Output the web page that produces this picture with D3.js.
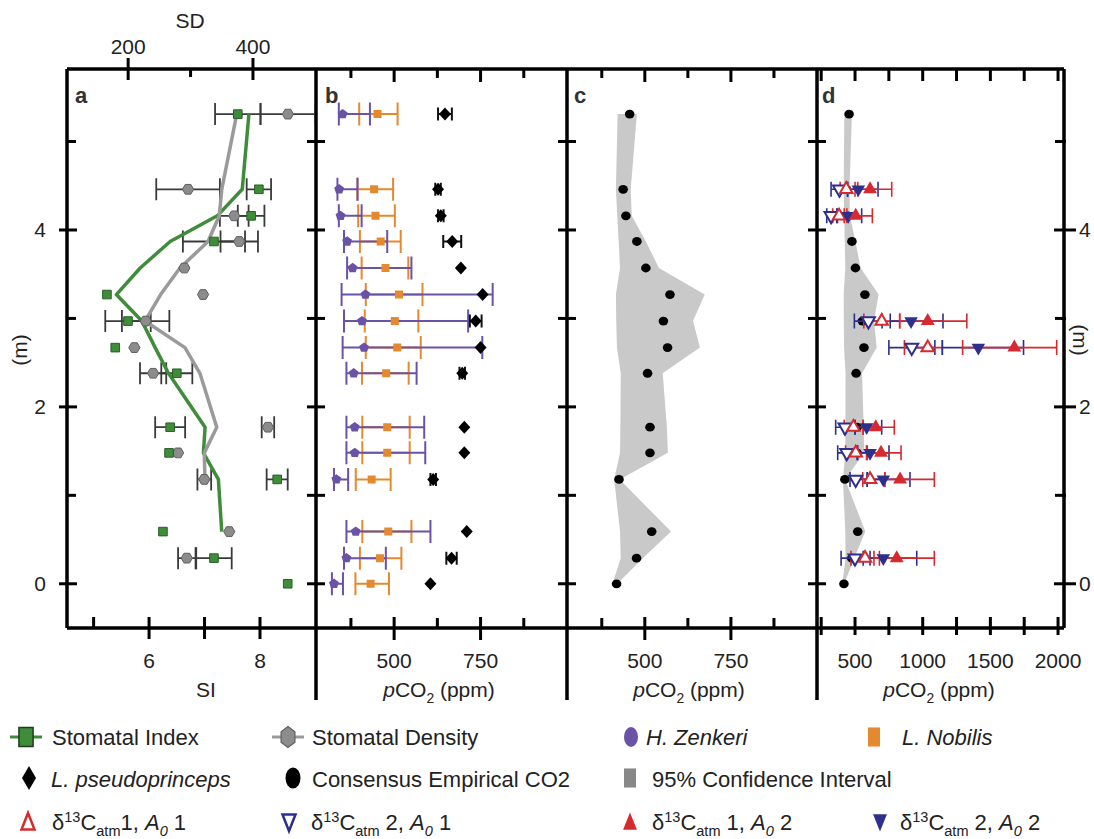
<!DOCTYPE html>
<html>
<head>
<meta charset="utf-8">
<script src="https://cdn.jsdelivr.net/npm/d3@7/dist/d3.min.js"></script>
<style>
  body { margin: 0; background: #fff; }
  svg { font-family: "Liberation Sans", Arial, sans-serif; }
</style>
</head>
<body>
<svg id="chart" width="1094" height="839"></svg>
<script>
// depth of each sampled horizon (m)
const depth = [5.31, 4.46, 4.16, 3.87, 3.57, 3.27, 2.97, 2.67, 2.38, 1.77, 1.48, 1.18, 0.59, 0.29, 0];

// a: stomatal index (SI) and stomatal density (SD)
const siVal = [7.60, 7.98, 7.84, 7.17, null, 5.24, 5.62, 5.39, 6.50, 6.38, 6.36, 8.31, 6.25, 7.17, 8.50];
const siErr = [0.41, 0.22, 0.24, 0.56, null, null, 0.41, null, 0.28, 0.27, null, 0.19, null, 0.32, null];
const sdVal = [456, 296, 370, 378, 290, 320, 228, 210, 240, 424, 280, 322, 362, 294, null];
const sdErr = [44, 51, 23, 30, null, null, 38, null, 21, 10, null, 11, null, 14, null];
const siSmooth = [7.80, 7.68, 7.23, 6.38, 5.84, 5.41, 5.87, 6.11, 6.35, 7.01, 6.98, 7.25, 7.31, null, null];
const sdSmooth = [374, 350, 346, 328, 283, 252, 227, 291, 315, 342, 322, 323, null, null, null];

// b: species estimates (ppm)
const zenVal = [351, 341, 345, 364, 380, 417, 407, 413, 383, 386, 386, 333, 389, 362, 326];
const zenLo  = [340, 336, 340, 355, 364, 348, 355, 351, 362, 362, 362, 326, 362, 355, 320];
const zenHi  = [430, 394, 406, 480, 550, 785, 714, 755, 565, 587, 590, 367, 605, 476, 352];
const nobVal = [452, 442, 446, 461, 475, 514, 502, 509, 477, 480, 480, 435, 483, 459, 432];
const nobLo  = [399, 394, 396, 401, 406, 418, 415, 418, 407, 408, 408, 389, 408, 401, 388];
const nobHi  = [510, 497, 502, 519, 541, 582, 570, 577, 542, 545, 545, 490, 550, 521, 485];
const pseVal = [647, 627, 635, 668, 693, 756, 736, 750, 697, 703, 703, 613, 710, 666, 605];
const pseErr = [20, 8, 8, 26, 0, 0, 17, 0, 8, 0, 0, 8, 0, 15, 0];

// c, d: consensus CO2 and 95% confidence interval
const consVal = [456, 437, 445, 477, 503, 573, 554, 566, 508, 515, 515, 425, 520, 476, 418];
const consLo  = [421, 416, 420, 424, 428, 416, 417, 419, 430, 429, 428, 411, 428, 430, 406];
const consHi  = [477, 459, 462, 503, 541, 674, 640, 660, 552, 564, 567, 427, 576, 494, 420];

// d: d13C based estimates
const isoDepth = [4.46, 4.16, 2.97, 2.67, 1.77, 1.48, 1.18, 0.29];
const a1o1Val = [435, 382, 697, 1037, 488, 505, 611, 574];
const a1o1Lo  = [390, 335, 565, 865, 420, 430, 557, 470];
const a1o1Hi  = [500, 440, 830, 1145, 560, 585, 720, 680];
const a2o1Val = [385, 323, 599, 919, 426, 439, 505, 500];
const a2o1Lo  = [323, 291, 495, 750, 357, 372, 463, 397];
const a2o1Hi  = [445, 365, 700, 1090, 500, 515, 590, 611];
const a1o2Val = [611, 505, 1037, 1677, 653, 692, 833, 808];
const a1o2Lo  = [520, 420, 830, 1295, 560, 590, 720, 640];
const a1o2Hi  = [771, 628, 1326, 1990, 790, 840, 1086, 1086];
const a2o2Val = [524, 450, 914, 1411, 586, 611, 709, 709];
const a2o2Lo  = [445, 370, 760, 1145, 500, 520, 590, 560];
const a2o2Hi  = [670, 549, 1150, 1745, 697, 751, 906, 956];

// ticks
const depthTicks = [0, 1, 2, 3, 4, 5];
const depthLabels = [0, 2, 4];
const siTicks = [5, 6, 7, 8], siLabels = [6, 8];
const sdTicks = [200, 300, 400], sdLabels = [200, 400];
const co2Ticks = [375, 500, 625, 750, 875], co2Labels = [500, 750];
const isoTicks = [250, 500, 750, 1000, 1250, 1500, 1750, 2000], isoLabels = [500, 1000, 1500, 2000];

const C = {
  green: "#3f8c3a", greenDk: "#2b5f29", gray: "#8c8c8c", grayDk: "#5e5e5e",
  purple: "#6a52a6", orange: "#e5892e", red: "#d62a2f", navy: "#2d2f8e",
  band: "#c9c9c9", err: "#3a3a3a"
};

const svg = d3.select("#chart");
const T = 69, B = 628;
const y = d3.scaleLinear().domain([-0.5, 5.82]).range([B, T]);
const xSI = d3.scaleLinear().domain([4.52, 9.01]).range([67, 316]);
const xSD = d3.scaleLinear().domain([102, 501]).range([67, 316]);
const xB = d3.scaleLinear().domain([274, 1000]).range([316, 567]);
const xC = d3.scaleLinear().domain([274, 1000]).range([567, 817]);
const xD = d3.scaleLinear().domain([219, 2044]).range([817, 1064]);

const defs = svg.append("defs");
[["ca", xSI], ["cb", xB], ["cc", xC], ["cd", xD]].forEach(([id, s]) => {
  const [x0, x1] = s.range();
  defs.append("clipPath").attr("id", id).append("rect")
    .attr("x", x0 + 1.5).attr("y", T + 1.5).attr("width", x1 - x0 - 3).attr("height", B - T - 3);
});

function poly(n, rot, sx, sy) {
  const pts = d3.range(n).map((k) => {
    const a = rot + (k * 2 * Math.PI) / n;
    return [sx * Math.cos(a), sy * Math.sin(a)];
  });
  return "M" + pts.map((p) => p[0].toFixed(2) + "," + p[1].toFixed(2)).join("L") + "Z";
}
const SYM = {
  square: (s) => `M${-s},${-s}H${s}V${s}H${-s}Z`,
  hex: (r) => poly(6, 0, r, r),
  penta: (r) => poly(5, -Math.PI / 2, r, r),
  diamond: (w, h) => poly(4, -Math.PI / 2, w, h),
  up: (r) => poly(3, -Math.PI / 2, r, r),
  down: (r) => poly(3, Math.PI / 2, r, r)
};

const rowsOf = (ds, v, lo, hi) => ds.map((d, i) => ({ d, v: v[i], lo: lo ? lo[i] : null, hi: hi ? hi[i] : null }));

function errBars(g, rows, x, color, cap, sw) {
  rows = rows.filter((r) => r.lo != null && r.hi != null && r.hi > r.lo);
  const e = g.append("g").attr("stroke", color).attr("stroke-width", sw).attr("fill", "none");
  e.selectAll("line.bar").data(rows).join("line").attr("class", "bar")
    .attr("x1", (r) => x(r.lo)).attr("x2", (r) => x(r.hi)).attr("y1", (r) => y(r.d)).attr("y2", (r) => y(r.d));
  ["lo", "hi"].forEach((k) => {
    e.selectAll("line." + k).data(rows).join("line").attr("class", k)
      .attr("x1", (r) => x(r[k])).attr("x2", (r) => x(r[k]))
      .attr("y1", (r) => y(r.d) - cap).attr("y2", (r) => y(r.d) + cap);
  });
}

function marks(g, rows, x, path, fill, stroke, sw) {
  g.append("g").selectAll("path").data(rows.filter((r) => r.v != null)).join("path")
    .attr("d", path).attr("transform", (r) => `translate(${x(r.v)},${y(r.d)})`)
    .attr("fill", fill).attr("stroke", stroke).attr("stroke-width", sw || 0);
}

// ---- panel a
const ga = svg.append("g").attr("clip-path", "url(#ca)");
const siRows = rowsOf(depth, siVal, siVal.map((v, i) => v == null || siErr[i] == null ? null : v - siErr[i]), siVal.map((v, i) => v == null || siErr[i] == null ? null : v + siErr[i]));
const sdRows = rowsOf(depth, sdVal, sdVal.map((v, i) => v == null || sdErr[i] == null ? null : v - sdErr[i]), sdVal.map((v, i) => v == null || sdErr[i] == null ? null : v + sdErr[i]));
errBars(ga, sdRows, xSD, C.err, 11, 1.8);
errBars(ga, siRows, xSI, C.err, 11, 1.8);
const lineSI = d3.line().defined((d) => d.v != null).x((d) => xSI(d.v)).y((d) => y(d.d));
const lineSD = d3.line().defined((d) => d.v != null).x((d) => xSD(d.v)).y((d) => y(d.d));
ga.append("path").datum(rowsOf(depth, siSmooth)).attr("d", lineSI)
  .attr("fill", "none").attr("stroke", C.green).attr("stroke-width", 3.5).attr("stroke-linejoin", "round");
ga.append("path").datum(rowsOf(depth, sdSmooth)).attr("d", lineSD)
  .attr("fill", "none").attr("stroke", "#9a9a9a").attr("stroke-width", 3.5).attr("stroke-linejoin", "round");
marks(ga, sdRows, xSD, SYM.hex(5.6), C.gray, C.grayDk, 1);
marks(ga, siRows, xSI, SYM.square(4.3), C.green, C.greenDk, 1);

// ---- panel b
const gb = svg.append("g").attr("clip-path", "url(#cb)");
const zenRows = rowsOf(depth, zenVal, zenLo, zenHi);
const nobRows = rowsOf(depth, nobVal, nobLo, nobHi);
const pseRows = rowsOf(depth, pseVal, pseVal.map((v, i) => v - pseErr[i]), pseVal.map((v, i) => v + pseErr[i]));
errBars(gb, nobRows, xB, C.orange, 11.5, 2);
errBars(gb, zenRows, xB, C.purple, 11.5, 2);
errBars(gb, pseRows, xB, "#111", 6.5, 2);
marks(gb, nobRows, xB, SYM.square(4), C.orange, "none");
marks(gb, zenRows, xB, SYM.penta(5.2), C.purple, "none");
marks(gb, pseRows, xB, SYM.diamond(6, 6.5), "#000", "none");

// ---- panels c and d: consensus band and dots
function consensus(g, x) {
  const rows = rowsOf(depth, consVal, consLo, consHi);
  g.append("path").datum(rows)
    .attr("d", d3.area().y((r) => y(r.d)).x0((r) => x(r.lo)).x1((r) => x(r.hi)))
    .attr("fill", C.band);
  g.append("g").selectAll("ellipse").data(rows).join("ellipse")
    .attr("cx", (r) => x(r.v)).attr("cy", (r) => y(r.d)).attr("rx", 4.8).attr("ry", 4.4).attr("fill", "#000");
}
const gc = svg.append("g").attr("clip-path", "url(#cc)");
consensus(gc, xC);
const gd = svg.append("g").attr("clip-path", "url(#cd)");
consensus(gd, xD);

const isoSeries = [
  { rows: rowsOf(isoDepth, a2o1Val, a2o1Lo, a2o1Hi), color: C.navy, sym: SYM.down(7.5), filled: false },
  { rows: rowsOf(isoDepth, a1o1Val, a1o1Lo, a1o1Hi), color: C.red, sym: SYM.up(7.2), filled: false },
  { rows: rowsOf(isoDepth, a2o2Val, a2o2Lo, a2o2Hi), color: C.navy, sym: SYM.down(7.8), filled: true },
  { rows: rowsOf(isoDepth, a1o2Val, a1o2Lo, a1o2Hi), color: C.red, sym: SYM.up(8), filled: true }
];
isoSeries.forEach((s) => errBars(gd, s.rows, xD, s.color, 7.5, 1.6));
isoSeries.forEach((s) => marks(gd, s.rows, xD, s.sym, s.filled ? s.color : "#fff", s.color, s.filled ? 0 : 2));

// ---- frame and ticks
const fr = svg.append("g").attr("stroke", "#000").attr("fill", "none");
fr.append("line").attr("x1", 67).attr("x2", 1064).attr("y1", T).attr("y2", T).attr("stroke-width", 3.5);
fr.append("line").attr("x1", 67).attr("x2", 1064).attr("y1", B).attr("y2", B).attr("stroke-width", 3.5);
fr.append("line").attr("x1", 67).attr("x2", 67).attr("y1", T).attr("y2", B).attr("stroke-width", 3.5);
fr.append("line").attr("x1", 1064).attr("x2", 1064).attr("y1", T).attr("y2", B).attr("stroke-width", 3.5);
[316, 567, 817].forEach((x) =>
  fr.append("line").attr("x1", x).attr("x2", x).attr("y1", T).attr("y2", 700).attr("stroke-width", 3.5));

function vTicks(x, left, right, minorLeft, minorRight) {
  fr.append("g").selectAll("line").data(depthTicks).join("line")
    .attr("y1", (d) => y(d)).attr("y2", (d) => y(d)).attr("stroke-width", 3)
    .attr("x1", (d) => x - (depthLabels.includes(d) ? left : minorLeft))
    .attr("x2", (d) => x + (depthLabels.includes(d) ? right : minorRight));
}
vTicks(67, 8, 10, 0, 9);
[316, 567, 817].forEach((x) => vTicks(x, 9, 9, 9, 9));
vTicks(1064, 10, 12, 9, 2);

function hTicks(scale, vals, major, yy, up, down, mUp, mDown) {
  fr.append("g").selectAll("line").data(vals).join("line")
    .attr("x1", (d) => scale(d)).attr("x2", (d) => scale(d)).attr("stroke-width", 3)
    .attr("y1", (d) => yy - (major.includes(d) ? up : mUp))
    .attr("y2", (d) => yy + (major.includes(d) ? down : mDown));
}
hTicks(xSD, sdTicks, sdLabels, T, 11, 11, 0, 8);
hTicks(xSI, siTicks, [6, 7, 8], B, 11, 11, 11, 0);
[xB, xC].forEach((s) => {
  hTicks(s, co2Ticks, co2Labels, T, 0, 13, 0, 9);
  hTicks(s, co2Ticks, co2Labels, B, 11, 12, 10, 0);
});
hTicks(xD, isoTicks, isoTicks, T, 0, 12, 0, 12);
hTicks(xD, isoTicks, isoTicks, B, 11, 7, 11, 7);

// ---- text
const tx = svg.append("g").attr("fill", "#222").attr("font-size", 21);
function label(x, yy, s, anchor) {
  return tx.append("text").attr("x", x).attr("y", yy).attr("text-anchor", anchor || "middle").text(s);
}
depthLabels.forEach((d) => {
  label(40, y(d) + 7.5, d);
  label(1079, y(d) + 7.5, d, "start");
});
tx.append("text").attr("transform", "translate(27,350) rotate(-90)").attr("text-anchor", "middle").text("(m)");
tx.append("text").attr("transform", "translate(1073,340) rotate(90)").attr("text-anchor", "middle").text("(m)");
sdLabels.forEach((v) => label(xSD(v), 54, v));
label(190, 28, "SD");
siLabels.forEach((v) => label(xSI(v), 668, v));
label(206, 697, "SI");
co2Labels.forEach((v) => { label(xB(v), 668, v); label(xC(v), 668, v); });
isoLabels.forEach((v) => label(xD(v), 668, v));

function rich(g, x, yy, parts, size, anchor) {
  const t = g.append("text").attr("x", x).attr("y", yy).attr("font-size", size).attr("text-anchor", anchor || "start");
  let shift = 0;
  parts.forEach(([s, k]) => {
    k = k || "";
    const want = k.includes("sup") ? -0.38 * size : k.includes("sub") ? 0.28 * size : 0;
    const ts = t.append("tspan").text(s).attr("dy", want - shift);
    if (want) ts.attr("font-size", size * 0.66);
    if (k.includes("i")) ts.attr("font-style", "italic");
    shift = want;
  });
  return t;
}
const pco2 = [["p", "i"], ["CO"], ["2", "sub"], [" (ppm)"]];
[[xB, 439], [xC, 689], [xD, 939]].forEach(([s, cx]) => rich(tx, cx, 697, pco2, 21, "middle"));

[["a", 75], ["b", 325], ["c", 574], ["d", 822]].forEach(([s, x]) =>
  tx.append("text").attr("x", x).attr("y", 103).attr("font-size", 22).attr("font-weight", "bold").attr("fill", "#333").text(s));

// ---- legend
const lg = svg.append("g").attr("font-size", 22).attr("fill", "#222");
const legText = [
  ["Stomatal Index", "Stomatal Density", "H. Zenkeri", "L. Nobilis"],
  ["L. pseudoprinceps", "Consensus Empirical CO2", "95% Confidence Interval"]
];
const sym = (x, yy, d, fill, stroke, sw) =>
  lg.append("path").attr("d", d).attr("transform", `translate(${x},${yy})`)
    .attr("fill", fill).attr("stroke", stroke || "none").attr("stroke-width", sw || 0);

// row 1
lg.append("line").attr("x1", 10).attr("x2", 42).attr("y1", 737).attr("y2", 737).attr("stroke", C.green).attr("stroke-width", 3);
sym(26, 737, poly(4, Math.PI / 4, 10, 13.5), C.green, "#1d3d1c", 1.5);
lg.append("line").attr("x1", 272).attr("x2", 304).attr("y1", 737).attr("y2", 737).attr("stroke", "#9a9a9a").attr("stroke-width", 3);
sym(288, 737, poly(6, Math.PI / 2, 8, 10.5), C.gray, C.grayDk, 1.2);
lg.append("ellipse").attr("cx", 631).attr("cy", 737).attr("rx", 7).attr("ry", 10).attr("fill", C.purple);
sym(874, 737, poly(4, Math.PI / 4, 8.5, 13.5), C.orange);
lg.append("text").attr("x", 52).attr("y", 745).text(legText[0][0]);
lg.append("text").attr("x", 312).attr("y", 745).text(legText[0][1]);
lg.append("text").attr("x", 646).attr("y", 745).attr("font-style", "italic").text(legText[0][2]);
lg.append("text").attr("x", 902).attr("y", 745).attr("font-style", "italic").text(legText[0][3]);

// row 2
sym(29, 778, SYM.diamond(7, 12), "#000");
lg.append("ellipse").attr("cx", 293).attr("cy", 778).attr("rx", 7.5).attr("ry", 10.5).attr("fill", "#000");
sym(630, 778, poly(4, Math.PI / 4, 8.5, 13.5), "#888");
lg.append("text").attr("x", 51).attr("y", 787).attr("font-style", "italic").text(legText[1][0]);
lg.append("text").attr("x", 312).attr("y", 787).text(legText[1][1]);
lg.append("text").attr("x", 652).attr("y", 787).text(legText[1][2]);

// row 3
sym(28, 824, poly(3, -Math.PI / 2, 7.5, 11), "#fff", C.red, 2.5);
sym(289, 820, poly(3, Math.PI / 2, 7.5, 11), "#fff", C.navy, 2.5);
sym(630, 824, poly(3, -Math.PI / 2, 8, 11.5), C.red);
sym(880, 820, poly(3, Math.PI / 2, 8, 11.5), C.navy);
const iso = (a, o, sp) => [["δ"], ["13", "sup"], ["C"], ["atm", "sub"], [(sp ? " " : "") + a + ", "], ["A", "i"], ["0", "isub"], [" " + o]];
rich(lg, 52, 830, iso(1, 1, false), 22);
rich(lg, 311, 830, iso(2, 1, true), 22);
rich(lg, 652, 830, iso(1, 2, true), 22);
rich(lg, 900, 830, iso(2, 2, true), 22);
</script>
</body>
</html>
